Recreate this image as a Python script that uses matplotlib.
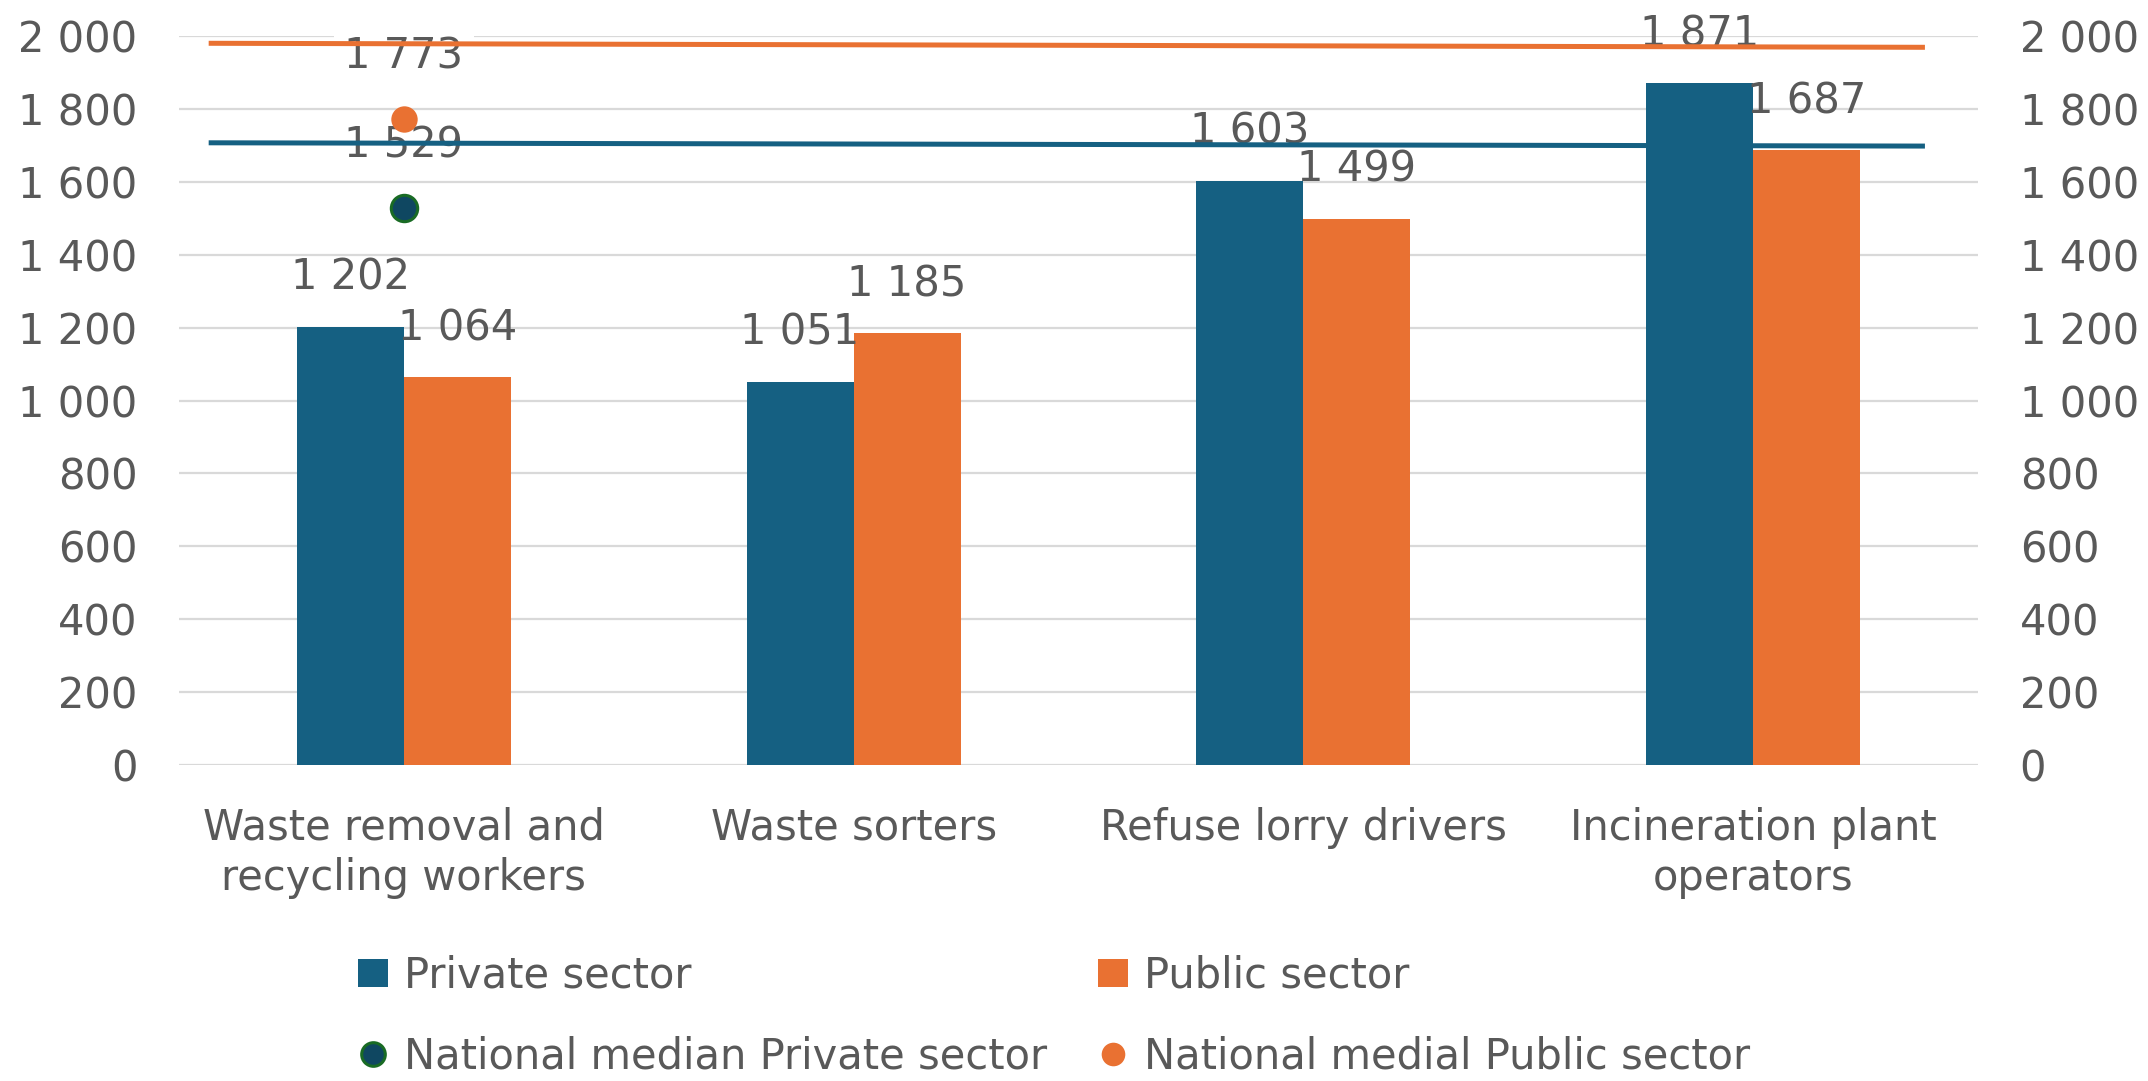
import matplotlib
matplotlib.use("Agg")
import matplotlib.pyplot as plt
from matplotlib.lines import Line2D
from matplotlib.patches import Patch
import numpy as np

# monthly earnings by occupation and sector
categories = ["Waste removal and\nrecycling workers", "Waste sorters",
              "Refuse lorry drivers", "Incineration plant\noperators"]
private_sector = [1202, 1051, 1603, 1871]
public_sector = [1064, 1185, 1499, 1687]

# national medians, shown as points on the first category
median_private = 1529
median_public = 1773

# horizontal reference lines (values at left and right end)
ref_x = [-0.434, 3.382]
ref_private = [1707, 1698]
ref_public = [1980, 1969]

y_ticks = [0, 200, 400, 600, 800, 1000, 1200, 1400, 1600, 1800, 2000]

BLUE = "#156082"
ORANGE = "#E97132"
NAVY = "#0F4761"
GREEN = "#196B24"
TEXT = "#595959"
GRID = "#D9D9D9"
FS = 30


def fmt(v):
    return f"{v:,}".replace(",", " ")


fig = plt.figure(figsize=(21.48, 10.81), dpi=100)
ax = fig.add_axes([179 / 2148, 1 - 765 / 1081, (1978 - 179) / 2148, (765 - 36) / 1081])

x = np.arange(len(categories))
w = 0.238
bars_priv = ax.bar(x - w / 2, private_sector, w, color=BLUE, zorder=2)
bars_pub = ax.bar(x + w / 2, public_sector, w, color=ORANGE, zorder=2)

# value labels above the bars
for xs, vals in ((x - w / 2, private_sector), (x + w / 2, public_sector)):
    for xi, v in zip(xs, vals):
        ax.annotate(fmt(v), (xi, v), xytext=(0, 26.6), textcoords="offset points",
                    ha="center", va="baseline", fontsize=FS, color=TEXT,
                    zorder=3, annotation_clip=False)

# national median points with their labels
ax.plot([0], [median_private], "o", ms=19, mfc=NAVY, mec=GREEN, mew=2.2, zorder=7)
ax.plot([0], [median_public], "o", ms=19, mfc=ORANGE, mec=ORANGE, mew=0, zorder=7)
for v in (median_private, median_public):
    ax.annotate(fmt(v), (0, v), xytext=(0, 36), textcoords="offset points",
                ha="center", va="baseline", fontsize=FS, color=TEXT, zorder=4,
                annotation_clip=False,
                bbox=dict(boxstyle="square,pad=0.25", fc="white", ec="none"))

# reference lines
ax.plot(ref_x, ref_public, color=ORANGE, lw=3.6, solid_capstyle="butt", zorder=6)
ax.plot(ref_x, ref_private, color=BLUE, lw=3.6, solid_capstyle="butt", zorder=6)

ax.set_xlim(-0.5, 3.5)
ax.set_ylim(0, 2000)
ax.set_yticks(y_ticks, [fmt(t) for t in y_ticks])
ax.set_xticks(x, categories)
ax.yaxis.grid(True, color=GRID, lw=1.6, zorder=0)
ax.set_axisbelow(True)
for s in ax.spines.values():
    s.set_visible(False)

ax.tick_params(axis="y", length=0, pad=30, labelsize=FS, labelcolor=TEXT,
               left=False, right=False, labelleft=True, labelright=True)
ax.tick_params(axis="x", length=0, pad=30, labelsize=FS, labelcolor=TEXT)
for lbl in ax.get_xticklabels():
    lbl.set_linespacing(1.24)

# legend, two columns laid out separately
leg_kw = dict(loc="center left", frameon=False, fontsize=FS, labelcolor=TEXT,
              handlelength=0.72, handleheight=0.65, handletextpad=0.38,
              borderpad=0, borderaxespad=0, labelspacing=0.92)
h_priv = [Patch(facecolor=BLUE),
          Line2D([], [], marker="o", ls="none", ms=17, mfc=NAVY, mec=GREEN, mew=2.2)]
h_pub = [Patch(facecolor=ORANGE),
         Line2D([], [], marker="o", ls="none", ms=17, mfc=ORANGE, mec=ORANGE, mew=0)]
fig.legend(handles=h_priv, labels=["Private sector", "National median Private sector"],
           bbox_to_anchor=(358 / 2148, 1 - 1016 / 1081), **leg_kw)
fig.legend(handles=h_pub, labels=["Public sector", "National medial Public sector"],
           bbox_to_anchor=(1098 / 2148, 1 - 1016 / 1081), **leg_kw)

fig.savefig("out.png", dpi=100)
